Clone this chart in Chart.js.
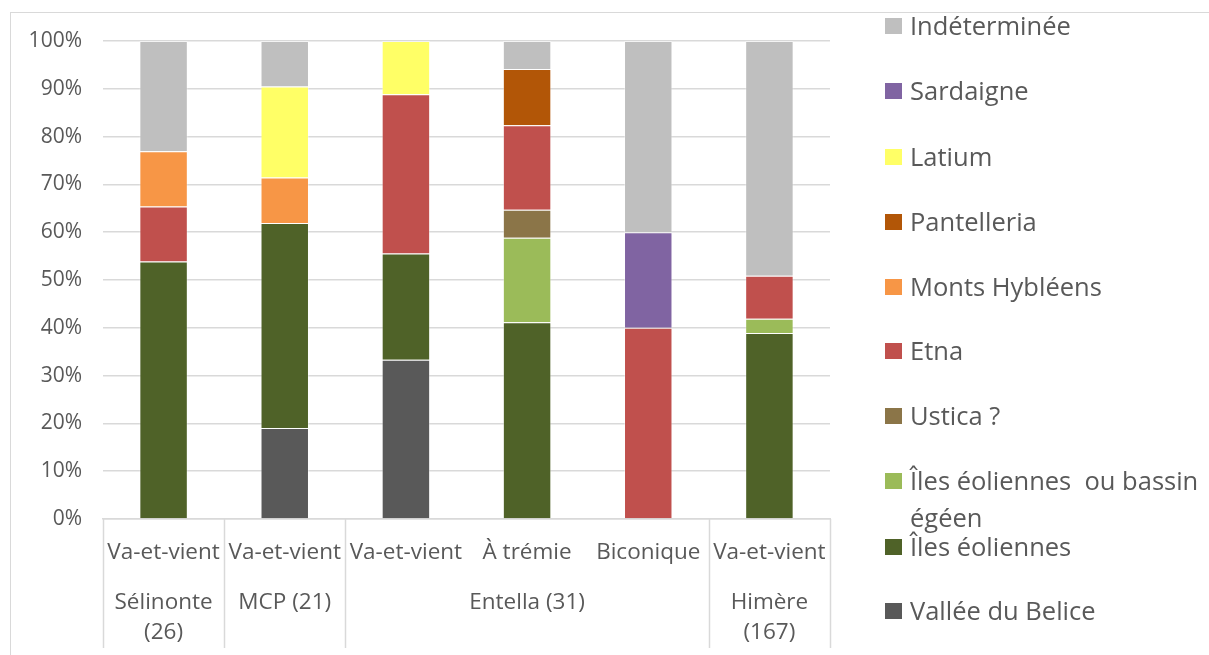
<!DOCTYPE html>
<html>
<head>
<meta charset="utf-8">
<script src="https://cdn.jsdelivr.net/npm/chart.js@4.4.1/dist/chart.umd.min.js"></script>
<style>
  body { margin: 0; background: #fff; font-family: "Open Sans", sans-serif; }
  #wrap { position: relative; width: 1209px; height: 655px; }
  #frame { position: absolute; left: 10px; top: 12px; right: 0; bottom: 0;
           border-left: 1.5px solid #d9d9d9; border-top: 1.5px solid #d9d9d9; pointer-events: none; }
  #legend { position: absolute; left: 885px; top: 0; }
  .item { position: absolute; left: 0; white-space: nowrap; color: #595959; font-size: 25.5px; line-height: 31px; }
  .item.two { line-height: 37px; }
  .item span.sw { position: absolute; left: 0; top: 8px; width: 17px; height: 16px; }
  .item.two span.sw { top: 11px; }
  .item span.tx { display: block; margin-left: 25px; }
</style>
</head>
<body>
<div id="wrap">
  <canvas id="myChart" width="1209" height="655"></canvas>
  <div id="frame"></div>
  <div id="legend"></div>
</div>
<script>
// categories (first row) and groups (second row)
let types = ['Va-et-vient', 'Va-et-vient', 'Va-et-vient', 'À trémie', 'Biconique', 'Va-et-vient']
let sites = [['Sélinonte', '(26)'], ['MCP (21)'], ['Entella (31)'], ['Himère', '(167)']]
let siteSpans = [1, 1, 3, 1]

// percent of each origin, per category
let valleeBelice   = [0, 19.05, 33.33, 0, 0, 0]
let ilesEoliennes  = [53.85, 42.86, 22.22, 41.18, 0, 38.92]
let eolEgeen       = [0, 0, 0, 17.65, 0, 2.99]
let ustica         = [0, 0, 0, 5.88, 0, 0]
let etna           = [11.54, 0, 33.33, 17.65, 40, 8.98]
let montsHybleens  = [11.54, 9.52, 0, 0, 0, 0]
let pantelleria    = [0, 0, 0, 11.76, 0, 0]
let latium         = [0, 19.05, 11.11, 0, 0, 0]
let sardaigne      = [0, 0, 0, 0, 20, 0]
let indeterminee   = [23.08, 9.52, 0, 5.88, 40, 49.10]

let yTicks = [0, 10, 20, 30, 40, 50, 60, 70, 80, 90, 100]

let series = [
  { label: 'Vallée du Belice', data: valleeBelice, color: '#595959' },
  { label: 'Îles éoliennes', data: ilesEoliennes, color: '#4f6228' },
  { label: 'Îles éoliennes  ou bassin égéen', data: eolEgeen, color: '#9bbb59' },
  { label: 'Ustica ?', data: ustica, color: '#8b7548' },
  { label: 'Etna', data: etna, color: '#c0504d' },
  { label: 'Monts Hybléens', data: montsHybleens, color: '#f79646' },
  { label: 'Pantelleria', data: pantelleria, color: '#b25607' },
  { label: 'Latium', data: latium, color: '#ffff66' },
  { label: 'Sardaigne', data: sardaigne, color: '#8064a2' },
  { label: 'Indéterminée', data: indeterminee, color: '#bfbfbf' }
]

const textColor = '#595959'
const gridColor = '#d9d9d9'
const font = '"Open Sans", sans-serif'

// second row of the x axis + separators
const groupRow = {
  id: 'groupRow',
  afterDraw(chart) {
    let ctx = chart.ctx
    let x = chart.scales.x
    let half = (x.getPixelForValue(1) - x.getPixelForValue(0)) / 2
    let bottom = chart.chartArea.bottom
    ctx.save()
    ctx.strokeStyle = gridColor
    ctx.lineWidth = 1.5
    ctx.fillStyle = textColor
    ctx.font = '22.5px ' + font
    ctx.textAlign = 'center'
    ctx.textBaseline = 'middle'
    let start = 0
    let edges = [x.getPixelForValue(0) - half]
    sites.forEach((lines, g) => {
      let end = start + siteSpans[g] - 1
      let cx = (x.getPixelForValue(start) + x.getPixelForValue(end)) / 2
      lines.forEach((t, k) => ctx.fillText(t, cx, 603 + k * 30))
      edges.push(x.getPixelForValue(end) + half)
      start = end + 1
    })
    edges.forEach(px => {
      ctx.beginPath()
      ctx.moveTo(Math.round(px) + 0.5, bottom)
      ctx.lineTo(Math.round(px) + 0.5, 648)
      ctx.stroke()
    })
    ctx.restore()
  }
}

var ctx = document.getElementById('myChart').getContext('2d')
var chart = new Chart(ctx, {
  type: 'bar',
  data: {
    labels: types,
    datasets: series.map(s => ({
      label: s.label,
      data: s.data,
      backgroundColor: s.color,
      borderColor: 'rgba(255,255,255,0.35)',
      borderWidth: 1,
      categoryPercentage: 1,
      barPercentage: 0.4
    }))
  },
  options: {
    responsive: false,
    animation: false,
    layout: { padding: { left: 10, right: 379, top: 41, bottom: 0 } },
    plugins: { legend: { display: false }, tooltip: { enabled: false } },
    scales: {
      x: {
        stacked: true,
        grid: { display: false },
        border: { display: true, color: gridColor, width: 1.5 },
        ticks: { color: textColor, font: { family: font, size: 22.5 }, padding: 12, maxRotation: 0, autoSkip: false },
        afterFit: s => { s.height = 136 }
      },
      y: {
        stacked: true,
        min: 0,
        max: 100,
        afterBuildTicks: s => { s.ticks = yTicks.map(v => ({ value: v })) },
        grid: { color: gridColor, lineWidth: 1.5, drawTicks: false },
        border: { display: false },
        ticks: { color: textColor, font: { family: font, size: 21 }, padding: 21, callback: v => v + '%' },
        afterFit: s => { s.width = 93 }
      }
    }
  },
  plugins: [groupRow]
})

// legend, top item is the last series
let legendTops = [26, 91, 157, 222, 287, 351, 416, 481, 547, 611]
let legend = document.getElementById('legend')
series.slice().reverse().forEach((s, i) => {
  let d = document.createElement('div')
  d.className = 'item'
  let label = s.label
  let off = 16
  if (label.indexOf('bassin') > 0) {
    label = 'Îles éoliennes &nbsp;ou bassin<br>égéen'
    d.className = 'item two'
    off = 19
  }
  d.style.top = (legendTops[i] - off) + 'px'
  d.innerHTML = '<span class="sw" style="background:' + s.color + '"></span><span class="tx">' + label + '</span>'
  legend.appendChild(d)
})
</script>
</body>
</html>
